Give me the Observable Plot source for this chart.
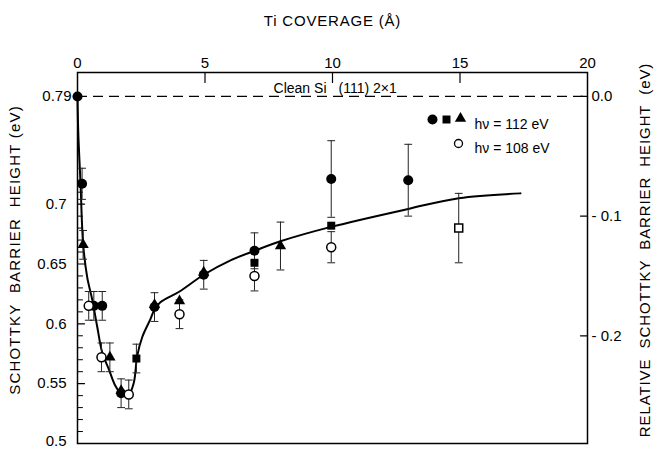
<!DOCTYPE html>
<html><head><meta charset="utf-8">
<script src="https://cdn.jsdelivr.net/npm/d3@7"></script>
<script src="https://cdn.jsdelivr.net/npm/@observablehq/plot@0.6"></script>
<style>body{margin:0;background:#fff}</style>
</head><body><div id="chart"></div>
<script>
// ---- tick values / labels ----
const xTicks = [0, 5, 10, 15, 20];
const xInnerTicks = [5, 10, 15];
const yTicksLeft = [0.55, 0.6, 0.65, 0.7];
const yTickLabelsLeft = ["0.55", "0.6", "0.65", "0.7"];
const yBottomTick = [0.5];
const yBottomTickLabel = ["0.5"];
const yTopTick = [0.79];
const yTopTickLabel = ["0.79"];
const yMajorTicks = [0.5, 0.55, 0.6, 0.65, 0.7];
const yMinorTicks = [0.51,0.52,0.53,0.54,0.56,0.57,0.58,0.59,0.61,0.62,0.63,0.64,0.66,0.67,0.68,0.69,0.71,0.72];
const yTicksRight = [0.79, 0.69, 0.59];
const yTickLabelsRight = ["0.0", "- 0.1", "- 0.2"];
const cleanLevel = [0.79];

// ---- data: hν = 112 eV (filled) ----
const circX   = [0, 0.18, 0.64, 0.97, 1.71, 3.02, 4.95, 6.94, 9.95, 12.97];
const circY   = [0.79, 0.717, 0.615, 0.615, 0.542, 0.614, 0.641, 0.661, 0.721, 0.72];
const circErr = [0, 0.013, 0.012, 0.012, 0.012, 0.012, 0.012, 0.015, 0.032, 0.03];

const triX   = [0.22, 1.27, 1.71, 3.02, 4.0, 4.95, 7.96];
const triY   = [0.666, 0.572, 0.544, 0.616, 0.619, 0.643, 0.665];
const triErr = [0.012, 0.012, 0, 0, 0, 0, 0.02];

const sqX   = [2.31, 6.94, 9.95];
const sqY   = [0.571, 0.651, 0.682];
const sqErr = [0.012, 0, 0];

// ---- data: hν = 108 eV (open) ----
const openX   = [0.44, 0.94, 2.01, 4.0, 6.94, 9.95];
const openY   = [0.615, 0.572, 0.541, 0.608, 0.640, 0.664];
const openErr = [0.012, 0.012, 0.012, 0.012, 0.0125, 0.013];

const openSqX   = [14.95];
const openSqY   = [0.680];
const openSqErr = [0.029];

// ---- fitted curve ----
const curveX = [0, 0.03, 0.08, 0.12, 0.22, 0.38, 0.58, 0.77, 0.97, 1.23, 1.49, 1.75, 2.01, 2.21, 2.34, 2.54, 2.86, 3.02, 3.25, 4.0, 4.95, 6.0, 6.94, 7.96, 9.94, 12.97, 14.95, 17.37];
const curveY = [0.79, 0.76, 0.735, 0.717, 0.667, 0.639, 0.62, 0.598, 0.576, 0.562, 0.548, 0.541, 0.541, 0.551, 0.573, 0.589, 0.604, 0.612, 0.618, 0.627, 0.641, 0.653, 0.661, 0.669, 0.681, 0.696, 0.705, 0.709];

// ---- texts ----
const topTitle = "Ti COVERAGE (Å)";
const leftTitle = "SCHOTTKY  BARRIER  HEIGHT (eV)";
const rightTitle = "RELATIVE  SCHOTTKY  BARRIER  HEIGHT  (eV)";
const cleanLabelA = "Clean Si";
const cleanLabelB = "(111) 2\u00d71";
const legend112 = "h\u03bd = 112 eV";
const legend108 = "h\u03bd = 108 eV";

// ---- build tables ----
const toRows = (xs, ys, es) => xs.map((x, i) => ({x, y: ys[i], err: es[i]}));
const circ = toRows(circX, circY, circErr);
const tri = toRows(triX, triY, triErr);
const sq = toRows(sqX, sqY, sqErr);
const open = toRows(openX, openY, openErr);
const openSq = toRows(openSqX, openSqY, openSqErr);
const curve = curveX.map((x, i) => ({x, y: curveY[i]}));
const bars = [...circ, ...tri, ...sq, ...open, ...openSq].filter(d => d.err > 0);
const caps = bars.flatMap(d => [{x: d.x, y: d.y - d.err}, {x: d.x, y: d.y + d.err}]);

const line = {draw(ctx, l) { ctx.moveTo(0, 0); ctx.lineTo(0, -l); }};
const font = "'Liberation Sans', Arial, sans-serif";

const chart = Plot.plot({
  width: 657, height: 449,
  marginLeft: 77, marginRight: 70, marginTop: 72, marginBottom: 6,
  x: {domain: [0, 20]},
  y: {domain: [0.5, 0.81]},
  style: {fontFamily: font, fontSize: "15px", background: "white", color: "black"},
  marks: [
    Plot.frame({strokeWidth: 1.5}),
    // top axis
    Plot.axisX({anchor: "top", label: null, ticks: xTicks, tickSize: 0, tickPadding: 5, tickFormat: d => String(d), fontSize: 15}),
    Plot.vector(xInnerTicks, {x: d => d, frameAnchor: "top", length: 10, rotate: 180, anchor: "start", shape: line, strokeWidth: 1.2}),
    // left axis
    Plot.axisY({anchor: "left", label: null, ticks: yTicksLeft, tickSize: 0, tickPadding: 11, tickFormat: (d, i) => yTickLabelsLeft[i], fontSize: 15}),
    Plot.axisY({anchor: "left", label: null, ticks: yBottomTick, tickSize: 0, tickPadding: 11, dy: -2, tickFormat: (d, i) => yBottomTickLabel[i], fontSize: 15}),
    Plot.axisY({anchor: "left", label: null, ticks: yTopTick, tickSize: 0, tickPadding: 6, tickFormat: (d, i) => yTopTickLabel[i], fontSize: 15}),
    Plot.vector(yMajorTicks, {y: d => d, frameAnchor: "left", length: 7, rotate: 90, anchor: "start", shape: line, strokeWidth: 1.2}),
    Plot.vector(yMinorTicks, {y: d => d, frameAnchor: "left", length: 5, rotate: 90, anchor: "start", shape: line, strokeWidth: 1}),
    // right axis
    Plot.axisY({anchor: "right", label: null, ticks: yTicksRight, tickSize: 0, tickPadding: 4, tickFormat: (d, i) => yTickLabelsRight[i], fontSize: 15}),
    Plot.vector(yTicksRight, {y: d => d, frameAnchor: "right", length: 7, rotate: -90, anchor: "start", shape: line, strokeWidth: 1.2}),
    // clean-surface reference
    Plot.ruleY(cleanLevel, {strokeDasharray: "10,6", strokeWidth: 1.3}),
    Plot.text([cleanLabelA], {frameAnchor: "top-left", dx: 249, dy: 11, fontSize: 14, textAnchor: "end"}),
    Plot.text([cleanLabelB], {frameAnchor: "top-left", dx: 261, dy: 11, fontSize: 14, textAnchor: "start"}),
    // titles
    Plot.text([topTitle], {frameAnchor: "top", dy: -57, fontSize: 15, textAnchor: "middle"}),
    Plot.text([leftTitle], {frameAnchor: "left", dx: -62, dy: -8, rotate: -90, textAnchor: "middle", fontSize: 15}),
    Plot.text([rightTitle], {frameAnchor: "right", dx: 58, dy: -8, rotate: -90, textAnchor: "middle", fontSize: 15}),
    // fitted curve
    Plot.line(curve, {x: "x", y: "y", curve: "catmull-rom", strokeWidth: 2}),
    // error bars
    Plot.ruleX(bars, {x: "x", y1: d => d.y - d.err, y2: d => d.y + d.err, stroke: "#222", strokeWidth: 1}),
    Plot.vector(caps, {x: "x", y: "y", length: 7, rotate: 90, anchor: "middle", shape: line, stroke: "#222", strokeWidth: 1}),
    // markers
    Plot.dot(circ, {x: "x", y: "y", r: 5, fill: "black", symbol: "circle"}),
    Plot.dot(tri, {x: "x", y: "y", r: 4.2, fill: "black", symbol: "triangle"}),
    Plot.dot(sq, {x: "x", y: "y", r: 4.5, fill: "black", symbol: "square"}),
    Plot.dot(open, {x: "x", y: "y", r: 4.5, fill: "white", stroke: "black", strokeWidth: 1.5, symbol: "circle"}),
    Plot.dot(openSq, {x: "x", y: "y", r: 4.5, fill: "white", stroke: "black", strokeWidth: 1.5, symbol: "square"}),
    // legend
    Plot.dot([legend112], {frameAnchor: "top-left", dx: 355, dy: 47, r: 5, fill: "black", symbol: "circle"}),
    Plot.dot([legend112], {frameAnchor: "top-left", dx: 369, dy: 47, r: 4.5, fill: "black", symbol: "square"}),
    Plot.dot([legend112], {frameAnchor: "top-left", dx: 383, dy: 46, r: 4.2, fill: "black", symbol: "triangle"}),
    Plot.text([legend112], {frameAnchor: "top-left", dx: 397, dy: 47, textAnchor: "start", fontSize: 14}),
    Plot.dot([legend108], {frameAnchor: "top-left", dx: 381, dy: 71, r: 4, fill: "white", stroke: "black", strokeWidth: 1.3, symbol: "circle"}),
    Plot.text([legend108], {frameAnchor: "top-left", dx: 397, dy: 71, textAnchor: "start", fontSize: 14})
  ]
});
// letter spacing for the spaced-out titles
const spacing = new Map([[topTitle, "0.8px"], [leftTitle, "1.2px"], [rightTitle, "0.9px"]]);
for (const t of chart.querySelectorAll("text")) {
  const s = spacing.get(t.textContent);
  if (s) t.setAttribute("letter-spacing", s);
}
document.getElementById("chart").appendChild(chart);
</script>
</body></html>
